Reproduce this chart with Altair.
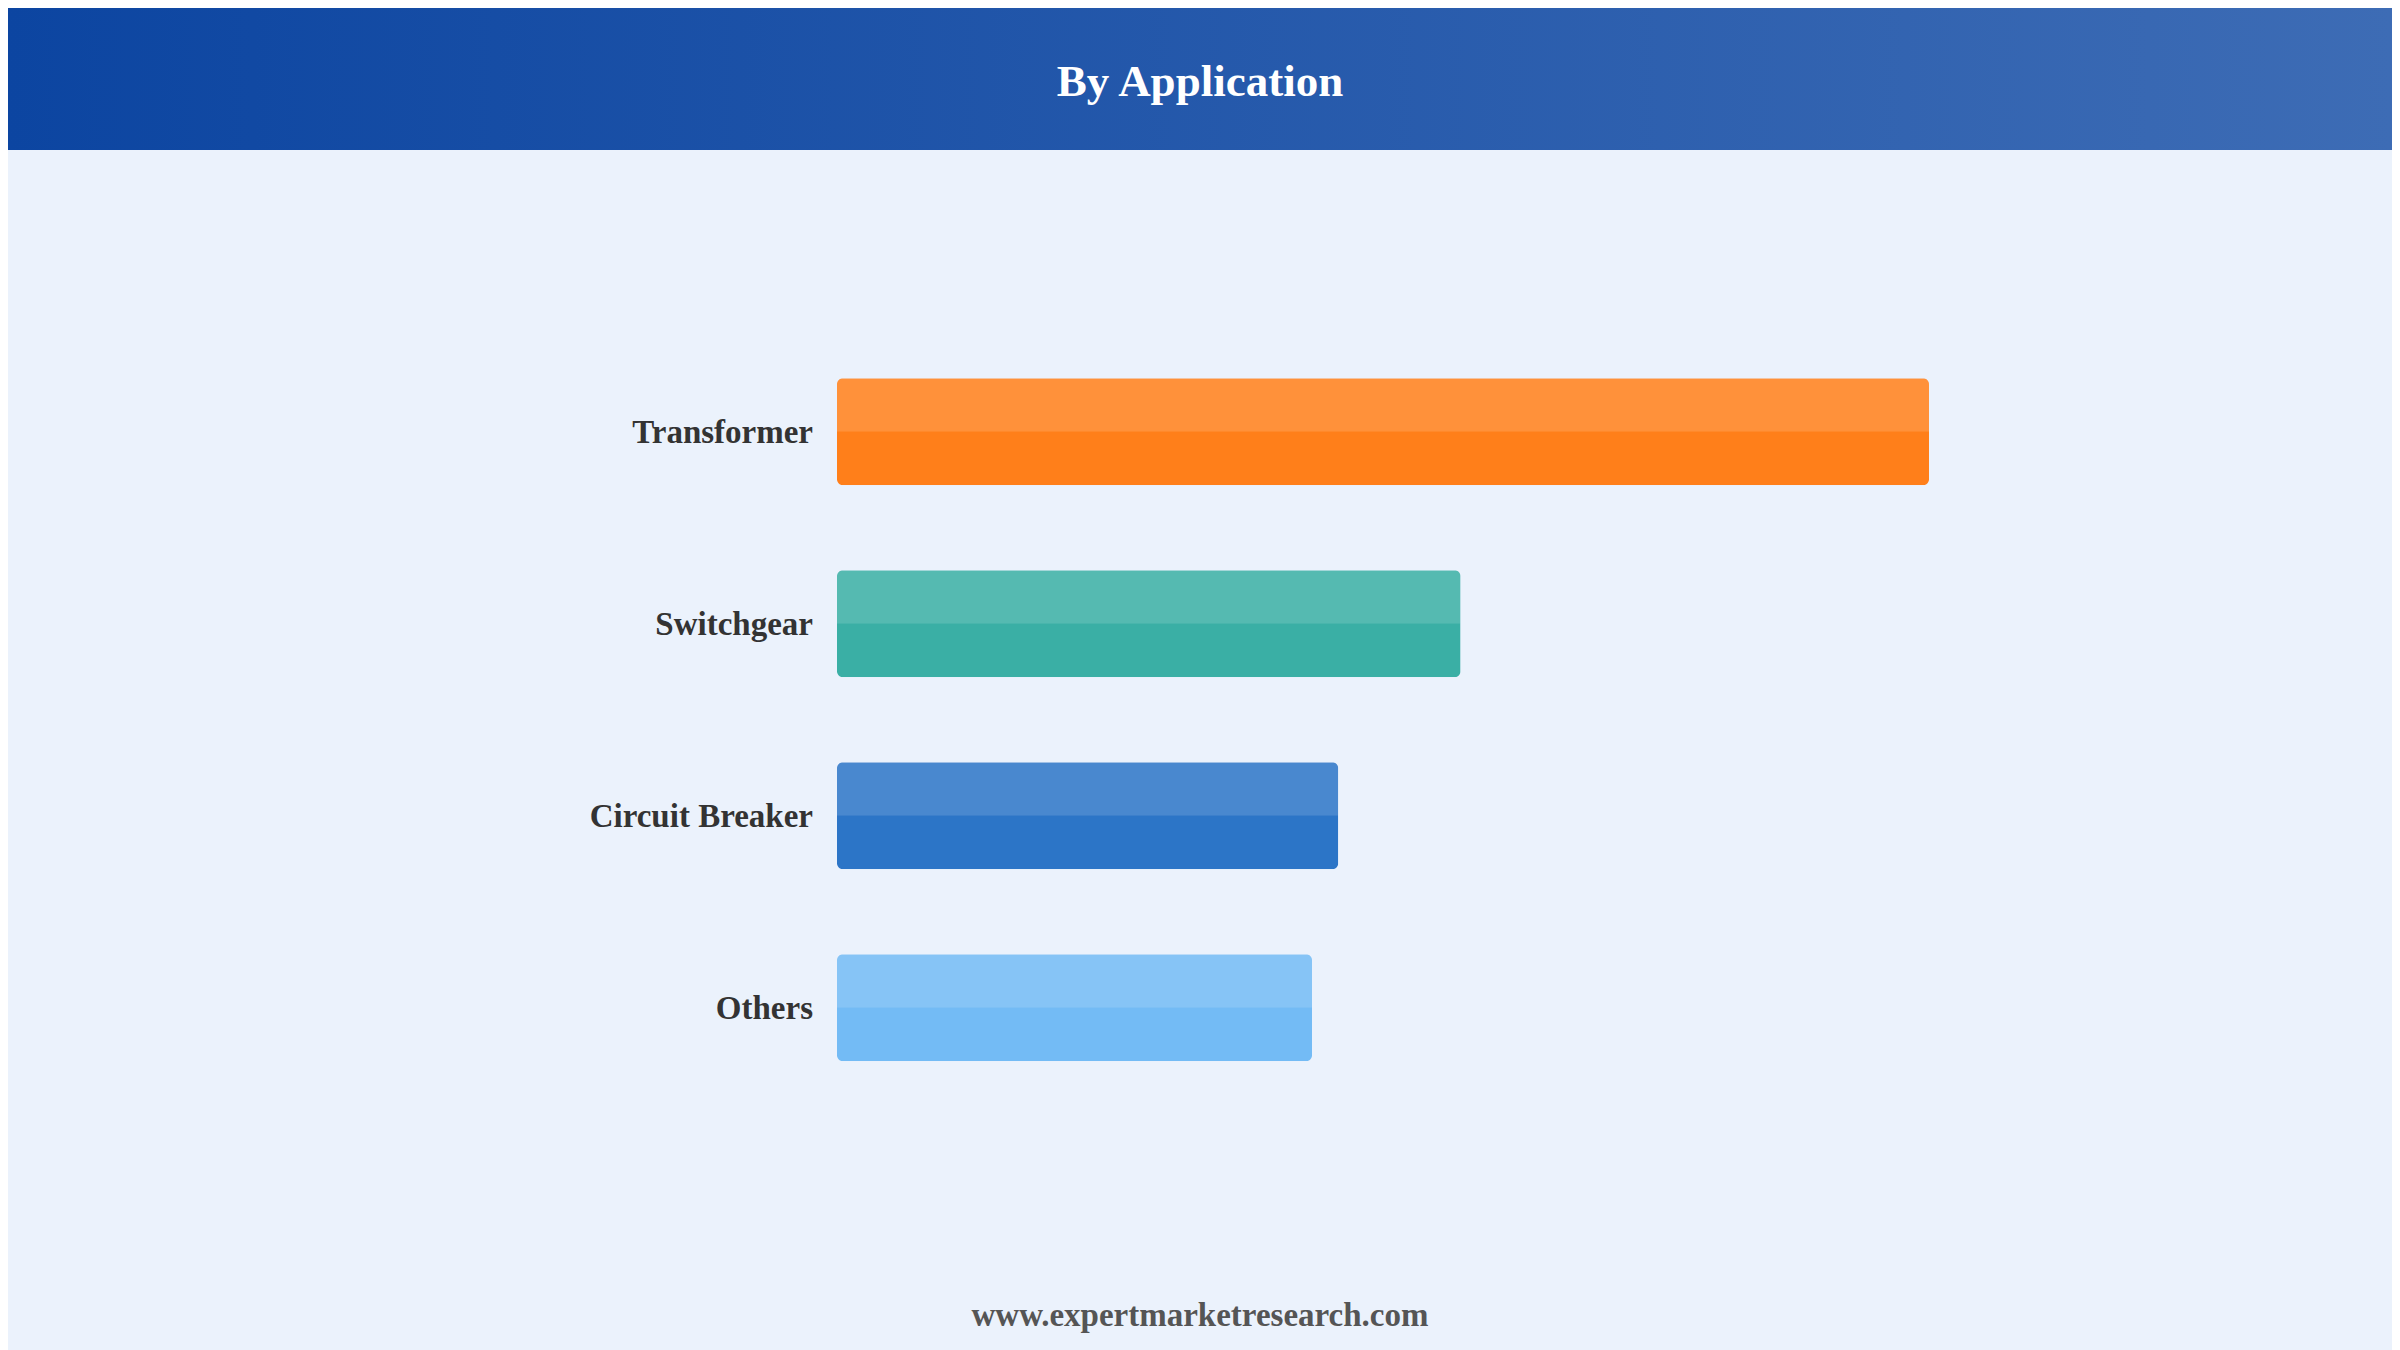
import altair as alt
import pandas as pd

categories = ["Transformer", "Switchgear", "Circuit Breaker", "Others"]
values = [100.0, 57.1, 45.9, 43.5]
colors = ["#FF7F1A", "#3AAFA5", "#2C75C7", "#73BBF5"]
title_text = "By Application"
footer_text = "www.expertmarketresearch.com"

df = pd.DataFrame({"cat": categories, "val": values, "col": colors})

W, H = 2384, 1342
FONT = "Liberation Serif"

yscale = alt.Scale(domain=categories, range=[285.5, 1138], paddingInner=0.44, paddingOuter=0.44)
xscale = alt.Scale(domain=[0, 100], range=[829, 1921])

base = alt.Chart(df)

bars = base.mark_bar(size=107, cornerRadius=6).encode(
    y=alt.Y("cat:N", scale=yscale, axis=None, sort=categories),
    x=alt.X("val:Q", scale=xscale, axis=None),
    color=alt.Color("col:N", scale=None, legend=None),
)

tops = base.mark_bar(size=53.5, yOffset=-26.75, color="white", opacity=0.14,
                     cornerRadiusTopLeft=6, cornerRadiusTopRight=6).encode(
    y=alt.Y("cat:N", scale=yscale, axis=None, sort=categories),
    x=alt.X("val:Q", scale=xscale, axis=None),
)

labels = base.mark_text(align="right", baseline="middle", font=FONT, fontWeight="bold",
                        fontSize=33, color="#333333", dy=1).encode(
    y=alt.Y("cat:N", scale=yscale, axis=None, sort=categories),
    x=alt.value(805),
    text="cat:N",
)

header = alt.Chart(pd.DataFrame({"a": [0]})).mark_rect(
    color=alt.LinearGradient(
        gradient="linear",
        stops=[alt.GradientStop(color="#0C45A1", offset=0),
               alt.GradientStop(color="#3D6CB5", offset=1)],
        x1=0, x2=1, y1=0, y2=0,
    )
).encode(x=alt.value(0), x2=alt.value(W), y=alt.value(0), y2=alt.value(142))

title = alt.Chart(pd.DataFrame({"t": [title_text]})).mark_text(
    align="center", baseline="middle", font=FONT, fontWeight="bold", fontSize=45, color="white"
).encode(x=alt.value(1192), y=alt.value(74), text="t:N")

footer = alt.Chart(pd.DataFrame({"t": [footer_text]})).mark_text(
    align="center", baseline="middle", font=FONT, fontWeight="bold", fontSize=33, color="#555555"
).encode(x=alt.value(1192), y=alt.value(1308), text="t:N")

chart = alt.layer(header, title, bars, tops, labels, footer).properties(
    width=W, height=H, background="#EBF2FC", padding=0,
    autosize=alt.AutoSizeParams(type="none"),
).configure_view(stroke=None)

chart.save("out.html", embed_options={"renderer": "svg", "actions": False})
